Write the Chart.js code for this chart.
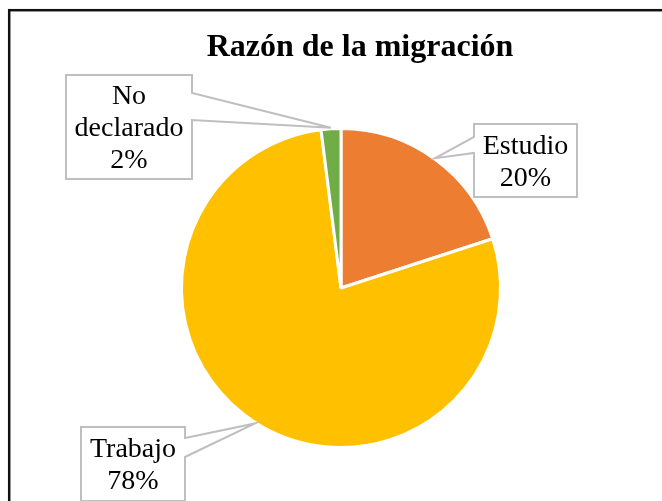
<!DOCTYPE html>
<html lang="es">
<head>
<meta charset="utf-8">
<title>Razón de la migración</title>
<script src="https://cdn.jsdelivr.net/npm/chart.js@4.4.1/dist/chart.umd.min.js"></script>
<style>
  html, body { margin: 0; padding: 0; background: #fff; }
  #wrap { position: relative; width: 662px; height: 501px; }
</style>
</head>
<body>
<div id="wrap"><canvas id="grafico" width="662" height="501"></canvas></div>
<script>
// Datos
const titulo = 'Razón de la migración';
const categorias = ['Estudio', 'Trabajo', 'No declarado'];
const valores = [20, 78, 2];
const colores = ['#ED7D31', '#FFC000', '#70AD47'];

// Cajas de las etiquetas (posición en px) y lado del que sale la flecha
const cajas = [
  { x: 474, y: 124, w: 103, h: 73, lado: 'izq', p1: 137, p2: 153, lineas: ['Estudio'] },
  { x: 81, y: 427, w: 104, h: 74, lado: 'der', p1: 438, p2: 457, lineas: ['Trabajo'] },
  { x: 66, y: 75, w: 126, h: 104, lado: 'der', p1: 93, p2: 120, lineas: ['No', 'declarado'] }
];

const familia = '"Liberation Serif", "Times New Roman", serif';

// Marco exterior y título
const marco = {
  id: 'marco',
  afterDraw(chart) {
    const c = chart.ctx;
    c.save();
    c.strokeStyle = '#111';
    c.lineWidth = 2.5;
    c.strokeRect(9.2, 10.2, 720, 620);

    c.fillStyle = '#000';
    c.font = 'bold 32px ' + familia;
    c.textAlign = 'center';
    c.textBaseline = 'alphabetic';
    c.fillText(titulo, 360, 56);
    c.restore();
  }
};

// Etiquetas tipo "globo" con flecha hacia cada porción
const globos = {
  id: 'globos',
  afterDatasetsDraw(chart) {
    const c = chart.ctx;
    const arcos = chart.getDatasetMeta(0).data;
    const total = valores.reduce((a, v) => a + v, 0);

    arcos.forEach((arco, i) => {
      const caja = cajas[i];
      const medio = (arco.startAngle + arco.endAngle) / 2;
      const ax = arco.x + Math.cos(medio) * (arco.outerRadius + 1);
      const ay = arco.y + Math.sin(medio) * (arco.outerRadius + 1);
      const { x, y, w, h } = caja;

      c.save();
      c.beginPath();
      if (caja.lado === 'izq') {
        c.moveTo(x, y);
        c.lineTo(x + w, y);
        c.lineTo(x + w, y + h);
        c.lineTo(x, y + h);
        c.lineTo(x, caja.p2);
        c.lineTo(ax, ay);
        c.lineTo(x, caja.p1);
      } else {
        c.moveTo(x, y);
        c.lineTo(x + w, y);
        c.lineTo(x + w, caja.p1);
        c.lineTo(ax, ay);
        c.lineTo(x + w, caja.p2);
        c.lineTo(x + w, y + h);
        c.lineTo(x, y + h);
      }
      c.closePath();
      c.fillStyle = '#fff';
      c.fill();
      c.strokeStyle = '#BFBFBF';
      c.lineWidth = 2;
      c.stroke();

      // Texto
      const lineas = caja.lineas.concat([Math.round(valores[i] / total * 100) + '%']);
      c.fillStyle = '#000';
      c.font = '28px ' + familia;
      c.textAlign = 'center';
      c.textBaseline = 'alphabetic';
      const altoLinea = 32;
      const cx = x + w / 2;
      const inicio = y + h / 2 - (lineas.length * altoLinea) / 2 + 25;
      lineas.forEach((t, k) => c.fillText(t, cx, inicio + k * altoLinea));
      c.restore();
    });
  }
};

const ctx = document.getElementById('grafico').getContext('2d');

new Chart(ctx, {
  type: 'pie',
  data: {
    labels: categorias,
    datasets: [{
      data: valores,
      backgroundColor: colores,
      borderColor: '#fff',
      borderWidth: 3
    }]
  },
  options: {
    responsive: false,
    animation: false,
    layout: { padding: { left: 20, right: 0, top: 127, bottom: 52 } },
    plugins: {
      legend: { display: false },
      tooltip: { enabled: false },
      title: { display: false }
    }
  },
  plugins: [marco, globos]
});
</script>
</body>
</html>
